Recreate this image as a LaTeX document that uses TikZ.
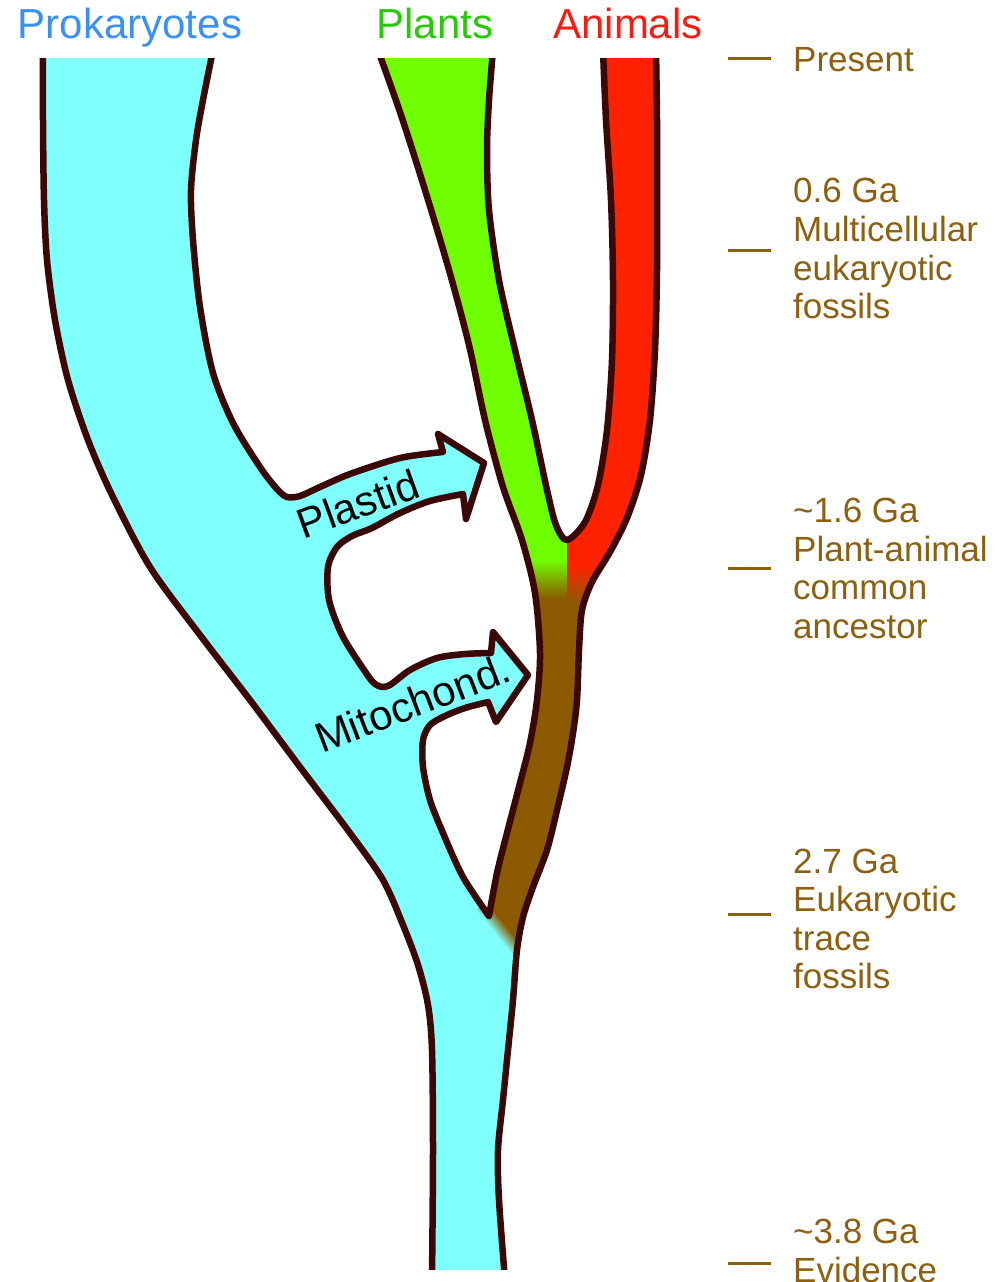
\documentclass[tikz,border=0pt]{standalone}
\usepackage{fontspec}
\setmainfont{Liberation Sans}
\definecolor{cyc}{RGB}{128,255,255}
\definecolor{grc}{RGB}{112,255,0}
\definecolor{rdc}{RGB}{255,34,0}
\definecolor{bnc}{RGB}{140,90,0}
\definecolor{olc}{RGB}{58,8,6}
\definecolor{tmc}{RGB}{140,96,16}
\definecolor{lblue}{RGB}{58,145,240}
\definecolor{lgreen}{RGB}{40,200,10}
\definecolor{lred}{RGB}{242,30,20}
\pgfdeclareverticalshading{bncy}{100bp}{color(0bp)=(cyc); color(44bp)=(cyc); color(56bp)=(bnc); color(100bp)=(bnc)}
\begin{document}
\begin{tikzpicture}[x=1pt,y=-1pt,
  outl/.style={draw=olc, line width=6.5pt, line join=round, line cap=butt},
  ticksty/.style={draw=tmc, line width=3pt},
  tlabel/.style={font=\fontsize{35}{39}\selectfont, text=tmc, anchor=base west, inner sep=0pt},
  toplabel/.style={font=\fontsize{42}{46}\selectfont, anchor=base, inner sep=0pt},
  arrlabel/.style={font=\fontsize{42}{46}\selectfont, anchor=base, inner sep=0pt}]
\useasboundingbox (0,0) rectangle (995,1282);

\begin{scope}
\clip (0,58) rectangle (995,1269);
% cyan region
\fill[cyc] plot[smooth] coordinates {(43,50) (43,120) (44,200) (47,260) (55,320) (68,380) (88,440) (112,495) (150,567) (200,635) (250,700) (300,767) (350,833) (383,880) (403,925) (418,965) (428,1005) (432,1050) (433,1150) (432,1280)}
  -- plot[smooth] coordinates {(505,1280) (499,1200) (498,1150) (503,1100) (508,1050) (513,1000) (517,950)}
  -- plot[smooth] coordinates {(489,916) (463,877) (443,833) (430,800) (423,767) (423,740) (430,725) (445,716) (465,708) (488,702)}
  -- (496,722) -- (528,675) -- (493,632)
  -- plot[smooth] coordinates {(491,653) (465,654) (437,658) (410,670) (388,686) (375,684) (362,667) (342,635) (329,600) (328,567) (337,547) (352,536) (372,528) (400,513) (430,501) (463,494)}
  -- (466,519) -- (484,463) -- (438,434)
  -- plot[smooth] coordinates {(443,452) (400,458) (350,474) (320,487) (300,496) (287,497) (277,489) (260,467) (233,423) (213,373) (200,307) (193,240) (191,190) (196,140) (203,100) (213,50)}
  -- cycle;
% eukaryote band (brown base, green and red on top, clipped to band)
\begin{scope}
\clip plot[smooth] coordinates {(378,50) (401,115) (425,190) (449,270) (469,345) (485,420) (503,487) (522,540) (535,593) (540,653) (537,700) (530,743) (520,783) (507,833) (497,873) (489,916)}
  -- plot[smooth] coordinates {(517,950) (523,917) (533,887) (547,850) (557,810) (567,767) (573,733) (577,700) (579,650) (582,610) (592,582) (610,552) (627,518) (641,475) (650,420) (655,350) (657,270) (657,190) (657,120) (656,50)}
  -- plot[smooth] coordinates {(603,50) (606,120) (611,200) (613,280) (612,360) (607,430) (598,485) (585,522) (567,540) (556,525) (547,490) (532,420) (515,350) (499,280) (489,210) (487,150) (489,100) (493,50)}
  -- cycle;
\fill[bnc] (300,40) rectangle (700,960);
\fill[grc] (300,40) rectangle (567,560);
\shade[top color=grc, bottom color=bnc] (300,560) rectangle (567,598);
\fill[rdc] (567,40) rectangle (700,565);
\shade[top color=rdc, bottom color=bnc] (567,565) rectangle (700,603);
\end{scope}
% fuzzy transition brown -> cyan
\begin{scope}
\clip (489,918) -- (493,900) -- (530,895) -- (523,917) -- (517,950) -- (513,1000) -- (440,1000) -- (440,900) -- (478,900) -- cycle;
\shade[shading=bncy, shading angle=-51] (486,902) -- (530,956) -- (520,964) -- (476,910) -- cycle;
\end{scope}
% outlines
\draw[outl] plot[smooth] coordinates {(43,50) (43,120) (44,200) (47,260) (55,320) (68,380) (88,440) (112,495) (150,567) (200,635) (250,700) (300,767) (350,833) (383,880) (403,925) (418,965) (428,1005) (432,1050) (433,1150) (432,1280)};
\draw[outl] plot[smooth] coordinates {(505,1280) (499,1200) (498,1150) (503,1100) (508,1050) (513,1000) (517,950) (523,917) (533,887) (547,850) (557,810) (567,767) (573,733) (577,700) (579,650) (582,610) (592,582) (610,552) (627,518) (641,475) (650,420) (655,350) (657,270) (657,190) (657,120) (656,50)};
\draw[outl] plot[smooth] coordinates {(603,50) (606,120) (611,200) (613,280) (612,360) (607,430) (598,485) (585,522) (567,540) (556,525) (547,490) (532,420) (515,350) (499,280) (489,210) (487,150) (489,100) (493,50)};
\draw[outl] plot[smooth] coordinates {(378,50) (401,115) (425,190) (449,270) (469,345) (485,420) (503,487) (522,540) (535,593) (540,653) (537,700) (530,743) (520,783) (507,833) (497,873) (489,916)}
  -- plot[smooth] coordinates {(489,916) (463,877) (443,833) (430,800) (423,767) (423,740) (430,725) (445,716) (465,708) (488,702)}
  -- (496,722) -- (528,675) -- (493,632)
  -- plot[smooth] coordinates {(491,653) (465,654) (437,658) (410,670) (388,686) (375,684) (362,667) (342,635) (329,600) (328,567) (337,547) (352,536) (372,528) (400,513) (430,501) (463,494)}
  -- (466,519) -- (484,463) -- (438,434)
  -- plot[smooth] coordinates {(443,452) (400,458) (350,474) (320,487) (300,496) (287,497) (277,489) (260,467) (233,423) (213,373) (200,307) (193,240) (191,190) (196,140) (203,100) (213,50)};
\end{scope}

% arrow labels
\node[arrlabel, rotate=20] (plastid) at (363,518) {Plastid};
\node[arrlabel, rotate=21] (mito) at (418,717) {Mitochond.};

% top labels
\node[toplabel, text=lblue] (prok) at (130,38) {Prokaryotes};
\node[toplabel, text=lgreen] (plants) at (435,38) {Plants};
\node[toplabel, text=lred] (animals) at (628,38) {Animals};

% time scale
\draw[ticksty] (728,58) -- (771,58);
\draw[ticksty] (728,250) -- (771,250);
\draw[ticksty] (728,568) -- (771,568);
\draw[ticksty] (728,914) -- (771,914);
\draw[ticksty] (728,1263) -- (771,1263);
\node[tlabel] (p0) at (793,71) {Present};
\node[tlabel] (a1) at (793,202) {0.6 Ga};
\node[tlabel] (a2) at (793,241) {Multicellular};
\node[tlabel] (a3) at (793,280) {eukaryotic};
\node[tlabel] (a4) at (793,318) {fossils};
\node[tlabel] (b1) at (793,522) {\textasciitilde1.6 Ga};
\node[tlabel] (b2) at (793,561) {Plant-animal};
\node[tlabel] (b3) at (793,599) {common};
\node[tlabel] (b4) at (793,638) {ancestor};
\node[tlabel] (c1) at (793,873) {2.7 Ga};
\node[tlabel] (c2) at (793,911.5) {Eukaryotic};
\node[tlabel] (c3) at (793,950) {trace};
\node[tlabel] (c4) at (793,988.5) {fossils};
\node[tlabel] (d1) at (793,1243) {\textasciitilde3.8 Ga};
\node[tlabel] (d2) at (793,1282) {Evidence};
\end{tikzpicture}
\end{document}
